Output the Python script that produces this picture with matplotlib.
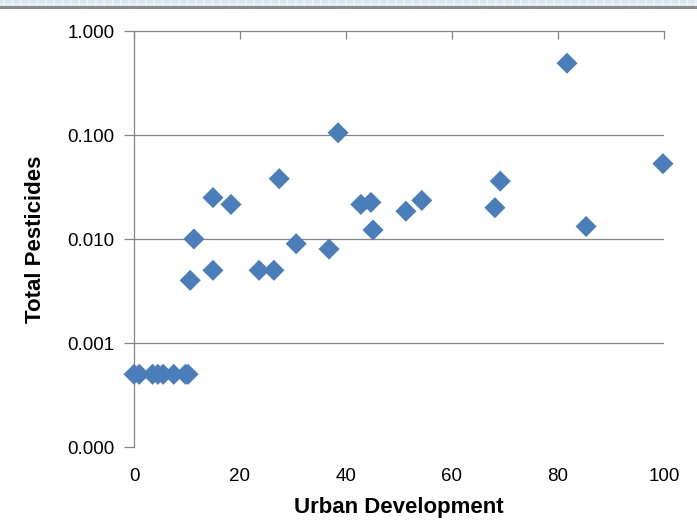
import matplotlib.pyplot as plt
from matplotlib.patches import Rectangle
from matplotlib.ticker import FixedLocator, FuncFormatter, NullLocator

# urban development (%) vs total pesticides per site
urban = [0, 1, 3.5, 4.5, 5.5, 7.5, 9.7, 10.2,
         10.6, 11.3, 14.9, 14.9, 18.3, 23.6, 26.4, 27.4, 30.6, 36.8, 38.5,
         42.8, 44.7, 45.1, 51.3, 54.3, 68.1, 69.1, 81.7, 85.3, 99.8]
pesticides = [0.0005, 0.0005, 0.0005, 0.0005, 0.0005, 0.0005, 0.0005, 0.0005,
              0.004, 0.010, 0.005, 0.025, 0.0215, 0.005, 0.005, 0.038, 0.009, 0.008, 0.105,
              0.0215, 0.0225, 0.0122, 0.0185, 0.0235, 0.020, 0.036, 0.49, 0.0132, 0.053]

y_ticks = [0.0001, 0.001, 0.01, 0.1, 1.0]
x_ticks = [0, 20, 40, 60, 80, 100]

grey = '#868686'
blue = '#4a7ebb'
plt.rcParams['font.family'] = ['Liberation Sans', 'DejaVu Sans']

fig = plt.figure(figsize=(6.97, 5.2), dpi=100)
ax = fig.add_axes([134 / 697, 1 - 447 / 520, 530 / 697, 416 / 520])

ax.scatter(urban, pesticides, marker='D', s=115, color=blue, edgecolors='none',
           zorder=3, clip_on=False)

ax.set_yscale('log')
ax.set_ylim(0.0001, 1.0)
ax.set_xlim(0, 100)
ax.yaxis.set_major_locator(FixedLocator(y_ticks))
ax.yaxis.set_minor_locator(NullLocator())
ax.yaxis.set_major_formatter(FuncFormatter(lambda v, p: f'{v:.3f}'))
ax.set_xticks(x_ticks)

# horizontal gridlines at each decade, none on the bottom edge
for v in y_ticks[1:-1]:
    ax.axhline(v, color=grey, lw=0.9, zorder=1)

for side in ['right', 'bottom']:
    ax.spines[side].set_visible(False)
for side in ['left', 'top']:
    ax.spines[side].set_color(grey)
    ax.spines[side].set_linewidth(0.9)

# horizontal axis crosses at the top, labels kept low
ax.tick_params(axis='x', bottom=False, top=True, labelbottom=True, labeltop=False,
               direction='in', length=6, width=0.9, color=grey, pad=15, labelsize=13.5)
ax.tick_params(axis='y', direction='out', length=7, width=0.9, color=grey, pad=7, labelsize=13.5)

ax.set_xlabel('Urban Development', fontsize=16, fontweight='bold', labelpad=9)
ax.set_ylabel('Total Pesticides', fontsize=16, fontweight='bold', labelpad=15)

# window frame strip along the top
fig.patches.append(Rectangle((0, 1 - 6 / 520), 1, 6 / 520, transform=fig.transFigure,
                             facecolor='#d9e7f1', edgecolor='#eef4f8', linewidth=0,
                             hatch='++', zorder=0))
fig.patches.append(Rectangle((0, 1 - 8.5 / 520), 1, 2.5 / 520, transform=fig.transFigure,
                             facecolor='#8c8c8c', edgecolor='none', zorder=0))

fig.savefig('out.png', dpi=100)
